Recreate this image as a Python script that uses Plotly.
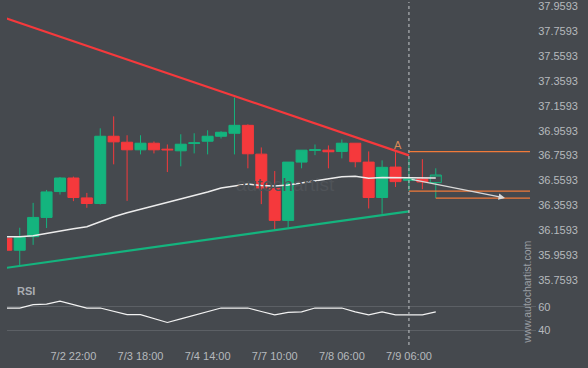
import plotly.graph_objects as go

# ---------------- data ----------------
tick_idx = [5, 10, 15, 20, 25, 30]
tick_text = ["7/2 22:00", "7/3 18:00", "7/4 14:00", "7/7 10:00", "7/8 06:00", "7/9 06:00"]

open_ = [36.094, 35.998, 36.107, 36.262, 36.470, 36.579, 36.419, 36.374, 36.915, 36.867,
         36.806, 36.859, 36.811, 36.798, 36.857, 36.875, 36.915, 36.939, 37.003, 36.771,
         36.494, 36.238, 36.707, 36.801, 36.803, 36.793, 36.859, 36.707, 36.422, 36.667,
         36.561, 36.571, 36.542]
high = [36.100, 36.179, 36.379, 36.483, 36.587, 36.590, 36.459, 36.979, 37.075, 36.923,
        36.923, 36.873, 36.849, 36.931, 36.939, 36.963, 36.955, 37.227, 37.011, 36.825,
        36.635, 36.707, 36.803, 36.849, 36.841, 36.889, 36.859, 36.793, 36.721, 36.790,
        36.731, 36.731, 36.657]
low = [35.990, 35.875, 36.041, 36.177, 36.446, 36.393, 36.339, 36.366, 36.689, 36.395,
       36.769, 36.777, 36.627, 36.673, 36.777, 36.769, 36.897, 36.769, 36.657, 36.369,
       36.166, 36.182, 36.657, 36.763, 36.657, 36.737, 36.665, 36.334, 36.291, 36.507,
       36.475, 36.489, 36.417]
close = [35.998, 36.102, 36.262, 36.467, 36.579, 36.422, 36.374, 36.915, 36.870, 36.806,
         36.859, 36.806, 36.806, 36.851, 36.862, 36.915, 36.947, 37.003, 36.774, 36.499,
         36.238, 36.707, 36.803, 36.806, 36.790, 36.859, 36.710, 36.422, 36.665, 36.550,
         36.571, 36.547, 36.603]

ma = [36.107, 36.107, 36.115, 36.135, 36.155, 36.171, 36.187, 36.227, 36.267, 36.299,
      36.327, 36.355, 36.379, 36.407, 36.435, 36.467, 36.499, 36.515, 36.531, 36.519,
      36.515, 36.523, 36.539, 36.555, 36.575, 36.590, 36.593, 36.577, 36.583, 36.583,
      36.582, 36.579, 36.579]

rsi = [58.9, 58.9, 61.7, 62.2, 64.7, 61.8, 58.9, 58.9, 56.1, 53.3,
       53.3, 50.0, 46.7, 49.7, 52.7, 55.8, 58.9, 58.9, 58.9, 56.0,
       53.1, 55.2, 55.6, 58.9, 58.9, 58.9, 55.6, 53.1, 55.6, 53.1,
       53.1, 53.1, 55.6]

resist_x = [0, 30]
resist_y = [37.864, 36.761]
support_x = [0, 30]
support_y = [35.856, 36.311]

pattern_end = 30
level_a = 36.791
level_b = 36.473
level_c = 36.417
level_c_start = 32
arrow_from = (30.08, 36.571)
arrow_to = (37.16, 36.419)
label_a_pos = (29.2, 36.843)

price_ticks = [35.7593, 35.9593, 36.1593, 36.3593, 36.5593, 36.7593,
               36.9593, 37.1593, 37.3593, 37.5593, 37.7593, 37.9593]
rsi_ticks = [40, 60]

# ---------------- styling ----------------
BG = "#45494e"
RED = "#f5393c"
GREEN = "#14b47e"
ORANGE = "#f07a3a"
TXT = "#b6b9bd"
FONT = "Liberation Sans, Arial, sans-serif"

n = len(open_)
idx = list(range(n))
X_RANGE = [0.052, 39.02]

fig = go.Figure()

# trend lines
fig.add_trace(go.Scatter(x=resist_x, y=resist_y, mode="lines",
                         line=dict(color=RED, width=2.2), yaxis="y"))
fig.add_trace(go.Scatter(x=support_x, y=support_y, mode="lines",
                         line=dict(color=GREEN, width=2.2), yaxis="y"))

# candles (all but last)
fig.add_trace(go.Candlestick(
    x=idx[:-1], open=open_[:-1], high=high[:-1], low=low[:-1], close=close[:-1],
    increasing=dict(line=dict(color=GREEN, width=1), fillcolor=GREEN),
    decreasing=dict(line=dict(color=RED, width=1), fillcolor=RED),
    whiskerwidth=0, yaxis="y"))
# last (hollow) candle
fig.add_trace(go.Candlestick(
    x=idx[-1:], open=open_[-1:], high=high[-1:], low=low[-1:], close=close[-1:],
    increasing=dict(line=dict(color=GREEN, width=1), fillcolor=BG),
    decreasing=dict(line=dict(color=RED, width=1), fillcolor=BG),
    whiskerwidth=0, yaxis="y"))

# moving average
fig.add_trace(go.Scatter(x=idx, y=ma, mode="lines",
                         line=dict(color="#ececec", width=1.5), yaxis="y"))

# RSI
fig.add_trace(go.Scatter(x=idx, y=rsi, mode="lines",
                         line=dict(color="#f2f2f2", width=1.2), yaxis="y2"))

shapes = [
    dict(type="line", xref="x", yref="paper", x0=pattern_end, x1=pattern_end, y0=0, y1=1,
         line=dict(color="#c4c7ca", width=1, dash="3px,3px")),
    dict(type="line", xref="x", yref="y", x0=pattern_end, x1=X_RANGE[1], y0=level_a, y1=level_a,
         line=dict(color=ORANGE, width=1.2)),
    dict(type="line", xref="x", yref="y", x0=pattern_end, x1=X_RANGE[1], y0=level_b, y1=level_b,
         line=dict(color=ORANGE, width=1.2)),
    dict(type="line", xref="x", yref="y", x0=level_c_start, x1=X_RANGE[1], y0=level_c, y1=level_c,
         line=dict(color=ORANGE, width=1.2)),
]

annotations = [
    dict(x=arrow_to[0], y=arrow_to[1], ax=arrow_from[0], ay=arrow_from[1],
         xref="x", yref="y", axref="x", ayref="y", showarrow=True,
         arrowhead=2, arrowsize=1, arrowwidth=1.3, arrowcolor="#d9d9d9", text=""),
    dict(x=label_a_pos[0], y=label_a_pos[1], xref="x", yref="y", text="A", showarrow=False,
         font=dict(color="#d98a57", size=11, family=FONT)),
    dict(x=20.8, y=36.523, xref="x", yref="y", text="autochartist", showarrow=False,
         font=dict(color="#4f5358", size=19, family=FONT)),
    dict(x=0.015, y=0.1565, xref="paper", yref="paper", text="<b>RSI</b>", showarrow=False,
         xanchor="left", yanchor="middle", font=dict(color="#a9adb2", size=11, family=FONT)),
    dict(x=1.0, y=0.152, xref="paper", yref="paper", text="www.autochartist.com",
         showarrow=False, textangle=-90, xshift=-3, xanchor="center", yanchor="middle",
         font=dict(color="#9a9ea3", size=10.5, family=FONT)),
]

fig.update_layout(
    width=588, height=368,
    margin=dict(l=7, r=58, t=0, b=23),
    paper_bgcolor=BG, plot_bgcolor=BG,
    showlegend=False, hovermode=False,
    boxgap=0.18, boxgroupgap=0,
    font=dict(family=FONT, color=TXT, size=11),
    shapes=shapes, annotations=annotations,
    xaxis=dict(range=X_RANGE, anchor="y2", showgrid=False, zeroline=False, showline=False,
               tickmode="array", tickvals=tick_idx, ticktext=tick_text,
               ticks="outside", ticklen=1, tickcolor=BG,
               tickfont=dict(color=TXT, size=11), rangeslider=dict(visible=False)),
    yaxis=dict(domain=[0.17391, 1], range=[35.7153, 37.9953], side="right",
               showgrid=False, zeroline=False, showline=False,
               tickmode="array", tickvals=price_ticks,
               ticktext=[f"{v:.4f}" for v in price_ticks],
               ticks="outside", ticklen=5, tickcolor=BG, ticklabeloverflow="allow",
               tickfont=dict(color=TXT, size=11)),
    yaxis2=dict(domain=[0, 0.17391], range=[27.65, 78.07], side="right",
                showgrid=True, gridcolor="#5c6065", gridwidth=1, zeroline=False, showline=False,
                tickmode="array", tickvals=rsi_ticks, ticks="outside", ticklen=5,
                tickcolor="#5c6065", tickfont=dict(color=TXT, size=11)),
)

fig.write_html("out.html", config={"displayModeBar": False},
               post_script="document.body.style.margin='0';")
